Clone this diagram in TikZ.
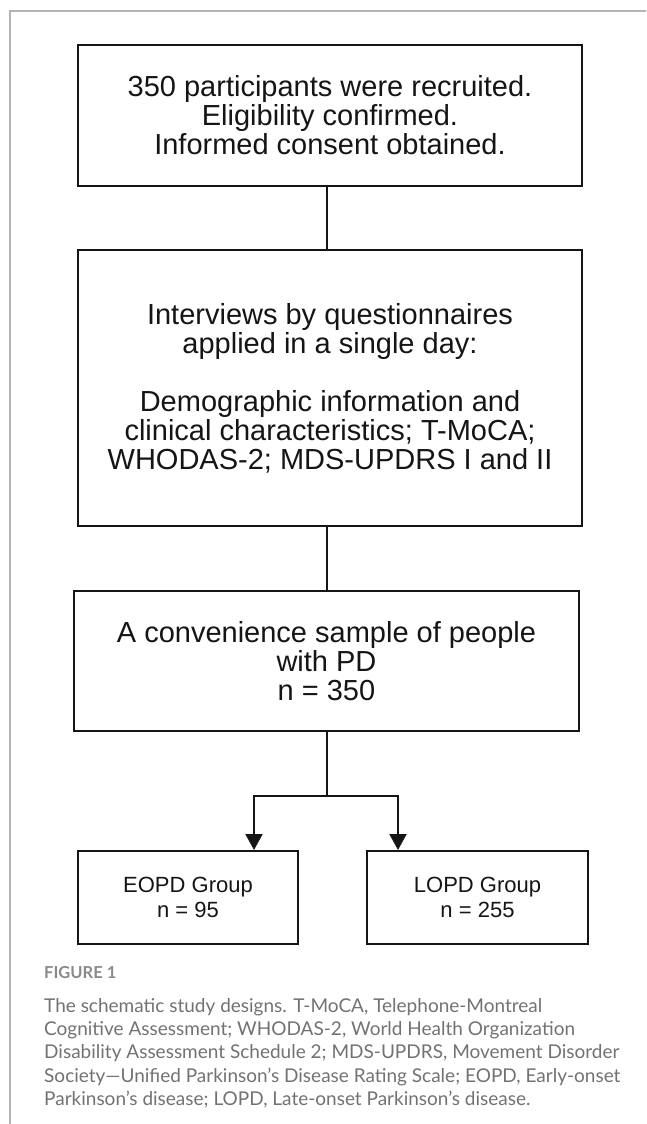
\documentclass[tikz,border=0pt]{standalone}
\usepackage{fontspec}
\setmainfont{Liberation Sans}
\newfontfamily\boxfont{Liberation Sans}
\newfontfamily\capfont{Lato}
\usetikzlibrary{arrows.meta}
\definecolor{framegray}{HTML}{B5B5B5}
\definecolor{capgray}{HTML}{727272}
\definecolor{figgray}{HTML}{8A8A8A}
\definecolor{ink}{HTML}{151515}
\begin{document}
\begin{tikzpicture}[x=1pt,y=-1pt,
  flowbox/.style={draw=ink,line width=2pt,fill=white,inner sep=0pt,align=center,text=ink,font=\boxfont\fontsize{29}{29}\selectfont},
  groupbox/.style={flowbox,font=\boxfont\fontsize{22}{25}\selectfont},
  link/.style={draw=ink,line width=2pt},
  arr/.style={link,-{Triangle[length=16pt,width=17pt]}},
  capline/.style={anchor=base west,inner sep=0pt,text=capgray,font=\capfont\fontsize{19}{23.5}\selectfont},
  figlabel/.style={anchor=base west,inner sep=0pt,text=figgray,font=\capfont\bfseries\fontsize{16.5}{18}\selectfont}
]
\useasboundingbox (0,0) rectangle (646,1124);
% frame
\draw[framegray,line width=1.5pt] (10,1124) -- (10,11) -- (646,11);

\node[flowbox,minimum width=504pt,minimum height=141pt] (b1) at (330,115.5)
  {350 participants were recruited.\\Eligibility confirmed.\\Informed consent obtained.};
\node[flowbox,minimum width=504pt,minimum height=276pt] (b2) at (330,388)
  {Interviews by questionnaires\\applied in a single day:\\[29pt]Demographic information and\\clinical characteristics; T-MoCA;\\WHODAS-2; MDS-UPDRS I and II};
\node[flowbox,minimum width=505pt,minimum height=140pt] (b3) at (326.5,661)
  {A convenience sample of people\\with PD\\n = 350};
\node[groupbox,minimum width=220pt,minimum height=93pt] (eo) at (188,897.5)
  {EOPD Group\\n = 95};
\node[groupbox,minimum width=221pt,minimum height=93pt] (lo) at (477.5,897.5)
  {LOPD Group\\n = 255};

\coordinate (sx) at (327,0);
\coordinate (ej) at (327,796);
\coordinate (el) at (254,796);
\coordinate (er) at (398,796);

\draw[link] (b1.south -| sx) -- (b2.north -| sx);
\draw[link] (b2.south -| sx) -- (b3.north -| sx);
\draw[link] (b3.south -| ej) -- (ej);
\draw[arr] (ej) -- (el) -- (el |- eo.north);
\draw[arr] (ej) -- (er) -- (er |- lo.north);

% caption
\node[figlabel] (fig) at (44,978) {FIGURE 1};
\node[capline] (c1) at (44,1012) {The schematic study designs. T-MoCA, Telephone-Montreal};
\node[capline] (c2) at (44,1035) {Cognitive Assessment; WHODAS-2, World Health Organization};
\node[capline] (c3) at (44,1058) {Disability Assessment Schedule 2; MDS-UPDRS, Movement Disorder};
\node[capline] (c4) at (44,1082) {Society—Unified Parkinson’s Disease Rating Scale; EOPD, Early-onset};
\node[capline] (c5) at (44,1105) {Parkinson’s disease; LOPD, Late-onset Parkinson’s disease.};
\end{tikzpicture}
\end{document}
